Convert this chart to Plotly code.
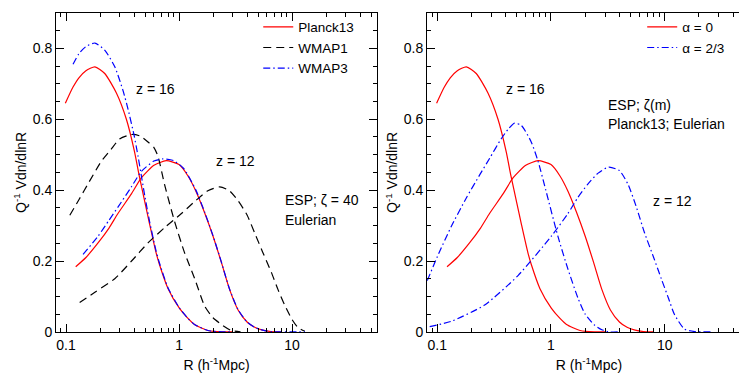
import plotly.graph_objects as go

# left panel: cosmology comparison, z = 16 and z = 12
planck_z16_r = [0.0986, 0.115, 0.13, 0.15, 0.18, 0.22, 0.279, 0.342, 0.404, 0.442, 0.5, 0.55, 0.627, 0.67, 0.8, 1.006, 1.2, 1.37, 1.8, 2.4, 3.0]
planck_z16_y = [0.645, 0.69, 0.717, 0.737, 0.748, 0.729, 0.674, 0.6, 0.508, 0.444, 0.364, 0.303, 0.223, 0.191, 0.122, 0.067, 0.038, 0.021, 0.004, 0.0, 0.0]

planck_z12_r = [0.1218, 0.15, 0.192, 0.24, 0.288, 0.38, 0.465, 0.6, 0.77, 1.0, 1.2, 1.41, 1.69, 2.0, 2.37, 2.8, 3.33, 4.0, 4.67, 5.5, 6.5, 8.0]
planck_z12_y = [0.184, 0.21, 0.251, 0.293, 0.334, 0.39, 0.435, 0.47, 0.483, 0.472, 0.44, 0.397, 0.335, 0.27, 0.196, 0.12, 0.062, 0.028, 0.013, 0.005, 0.001, 0.0]

wmap1_z16_r = [0.108, 0.13, 0.16, 0.205, 0.25, 0.3, 0.38, 0.45, 0.531, 0.6, 0.652, 0.746, 0.916, 1.12, 1.377, 1.69, 2.0, 2.37, 2.9, 3.5]
wmap1_z16_y = [0.329, 0.373, 0.423, 0.481, 0.515, 0.545, 0.557, 0.553, 0.536, 0.52, 0.495, 0.415, 0.31, 0.223, 0.15, 0.072, 0.04, 0.021, 0.004, 0.0]

wmap1_z12_r = [0.132, 0.18, 0.27, 0.38, 0.531, 0.75, 1.05, 1.4, 1.8, 2.29, 2.8, 3.33, 4.0, 4.67, 5.5, 6.56, 7.5, 8.6, 10.0, 11.3, 13.0]
wmap1_z12_y = [0.083, 0.112, 0.15, 0.2, 0.251, 0.295, 0.334, 0.37, 0.398, 0.409, 0.398, 0.37, 0.33, 0.279, 0.225, 0.168, 0.12, 0.076, 0.035, 0.012, 0.002]

wmap3_z16_r = [0.1153, 0.13, 0.15, 0.18, 0.22, 0.27, 0.32, 0.354, 0.4, 0.434, 0.47, 0.5, 0.55, 0.627, 0.67, 0.8, 1.006, 1.2, 1.37, 1.8, 2.4, 3.0]
wmap3_z16_y = [0.755, 0.785, 0.805, 0.815, 0.795, 0.748, 0.68, 0.628, 0.555, 0.495, 0.43, 0.38, 0.31, 0.228, 0.195, 0.124, 0.068, 0.038, 0.021, 0.004, 0.0, 0.0]

wmap3_z12_r = [0.1415, 0.192, 0.24, 0.288, 0.38, 0.465, 0.6, 0.72, 0.9, 1.1, 1.41, 1.69, 2.0, 2.37, 2.8, 3.33, 4.0, 4.67, 5.5, 6.5, 8.0, 13.0]
wmap3_z12_y = [0.219, 0.27, 0.315, 0.352, 0.41, 0.453, 0.482, 0.488, 0.483, 0.461, 0.4, 0.337, 0.271, 0.197, 0.121, 0.063, 0.028, 0.013, 0.005, 0.001, 0.0, 0.0]

# right panel: alpha = 2/3 curves (alpha = 0 is Planck13 again)
alpha23_z16_r = [0.0817, 0.1, 0.133, 0.18, 0.236, 0.289, 0.365, 0.42, 0.478, 0.55, 0.67, 0.77, 0.9, 1.15, 1.41, 1.73, 2.0, 2.4, 2.8, 3.3, 4.0]
alpha23_z16_y = [0.145, 0.212, 0.298, 0.378, 0.443, 0.49, 0.545, 0.572, 0.589, 0.582, 0.536, 0.481, 0.4, 0.27, 0.177, 0.095, 0.05, 0.02, 0.006, 0.0, 0.0]

alpha23_z12_r = [0.0857, 0.133, 0.261, 0.513, 1.006, 1.41, 1.73, 2.11, 2.6, 3.22, 4.0, 4.75, 5.6, 6.66, 8.0, 9.34, 10.8, 12.2, 15.0, 18.4, 25.6]
alpha23_z12_y = [0.015, 0.03, 0.076, 0.159, 0.27, 0.334, 0.38, 0.417, 0.448, 0.465, 0.455, 0.417, 0.355, 0.279, 0.21, 0.15, 0.095, 0.049, 0.0074, 0.001, 0.0]

x_ticks = [0.1, 1, 10]
x_tick_text = ["0.1", "1", "10"]
x_minor = [k * 10.0 ** e for e in range(-2, 2) for k in range(2, 10)]

RED = "#ff0000"
BLUE = "#0000ff"
FONT = "Liberation Sans, Arial, sans-serif"
dash_black = "8px,5px"
dashdot_blue = "7px,3px,1.5px,3px"

fig = go.Figure()

def add_curve(r, y, color, dash, name, xa, ya, legend, show):
    fig.add_trace(go.Scatter(
        x=r, y=y, mode="lines", name=name, xaxis=xa, yaxis=ya,
        line=dict(color=color, width=1.2, dash=dash, shape="spline", smoothing=0.6),
        showlegend=show, legend=legend,
    ))

add_curve(planck_z16_r, planck_z16_y, RED, "solid", "Planck13", "x", "y", "legend", True)
add_curve(planck_z12_r, planck_z12_y, RED, "solid", "Planck13", "x", "y", "legend", False)
add_curve(wmap1_z16_r, wmap1_z16_y, "black", dash_black, "WMAP1", "x", "y", "legend", True)
add_curve(wmap1_z12_r, wmap1_z12_y, "black", dash_black, "WMAP1", "x", "y", "legend", False)
add_curve(wmap3_z16_r, wmap3_z16_y, BLUE, dashdot_blue, "WMAP3", "x", "y", "legend", True)
add_curve(wmap3_z12_r, wmap3_z12_y, BLUE, dashdot_blue, "WMAP3", "x", "y", "legend", False)

add_curve(planck_z16_r, planck_z16_y, RED, "solid", "\u03b1 = 0", "x2", "y2", "legend2", True)
add_curve(planck_z12_r, planck_z12_y, RED, "solid", "\u03b1 = 0", "x2", "y2", "legend2", False)
add_curve(alpha23_z16_r, alpha23_z16_y, BLUE, dashdot_blue, "\u03b1 = 2/3", "x2", "y2", "legend2", True)
add_curve(alpha23_z12_r, alpha23_z12_y, BLUE, dashdot_blue, "\u03b1 = 2/3", "x2", "y2", "legend2", False)

xax = dict(
    type="log", range=[-1.0885, 1.752], tickmode="array", tickvals=x_ticks, ticktext=x_tick_text,
    ticks="inside", ticklen=8, tickcolor="black", showline=True, linecolor="black", linewidth=1,
    mirror="ticks", showgrid=False, zeroline=False, tickfont=dict(size=14),
    minor=dict(tickmode="array", tickvals=x_minor, ticks="inside", ticklen=4, tickcolor="black", showgrid=False),
    title=dict(text="R (h<sup>-1</sup>Mpc)", standoff=8, font=dict(size=14)),
)
yax = dict(
    range=[0, 0.9], dtick=0.2, tick0=0, ticks="inside", ticklen=8, tickcolor="black",
    showline=True, linecolor="black", linewidth=1, mirror="ticks", showgrid=False, zeroline=False,
    tickfont=dict(size=14),
    minor=dict(dtick=0.05, tick0=0, ticks="inside", ticklen=4, tickcolor="black", showgrid=False),
    title=dict(text="Q<sup>-1</sup> Vdn/dlnR", standoff=2, font=dict(size=14)),
)

fig.update_layout(
    width=747, height=374,
    margin=dict(l=0, r=0, t=0, b=0),
    paper_bgcolor="white", plot_bgcolor="white",
    font=dict(family=FONT, size=14, color="black"),
    xaxis=dict(xax, domain=[0.0643, 0.494], anchor="y"),
    yaxis=dict(yax, domain=[0.115, 0.9866], anchor="x"),
    xaxis2=dict(xax, domain=[0.561, 0.9946], anchor="y2", range=[-1.09, 1.759]),
    yaxis2=dict(yax, domain=[0.115, 0.9866], anchor="x2"),
    legend=dict(x=0.335, y=0.99, xanchor="left", yanchor="top", bgcolor="rgba(0,0,0,0)",
                font=dict(size=13.5), tracegroupgap=0),
    legend2=dict(x=0.849, y=0.99, xanchor="left", yanchor="top", bgcolor="rgba(0,0,0,0)",
                 font=dict(size=13.5), tracegroupgap=0),
)

notes = [
    ("x", "y", -0.212, 0.684, "z = 16", "center"),
    ("x", "y", 0.504, 0.483, "z = 12", "center"),
    ("x", "y", 0.92, 0.372, "ESP; \u03b6 = 40", "left"),
    ("x", "y", 0.92, 0.317, "Eulerian", "left"),
    ("x2", "y2", -0.22, 0.684, "z = 16", "center"),
    ("x2", "y2", 0.484, 0.64, "ESP; \u03b6(m)", "left"),
    ("x2", "y2", 0.484, 0.5876, "Planck13; Eulerian", "left"),
    ("x2", "y2", 1.073, 0.37, "z = 12", "center"),
]
for xr, yr, xv, yv, txt, anc in notes:
    fig.add_annotation(x=xv, y=yv, xref=xr, yref=yr, text=txt, showarrow=False,
                       xanchor=anc, yanchor="middle", font=dict(size=14))

fig.write_html("out.html")
